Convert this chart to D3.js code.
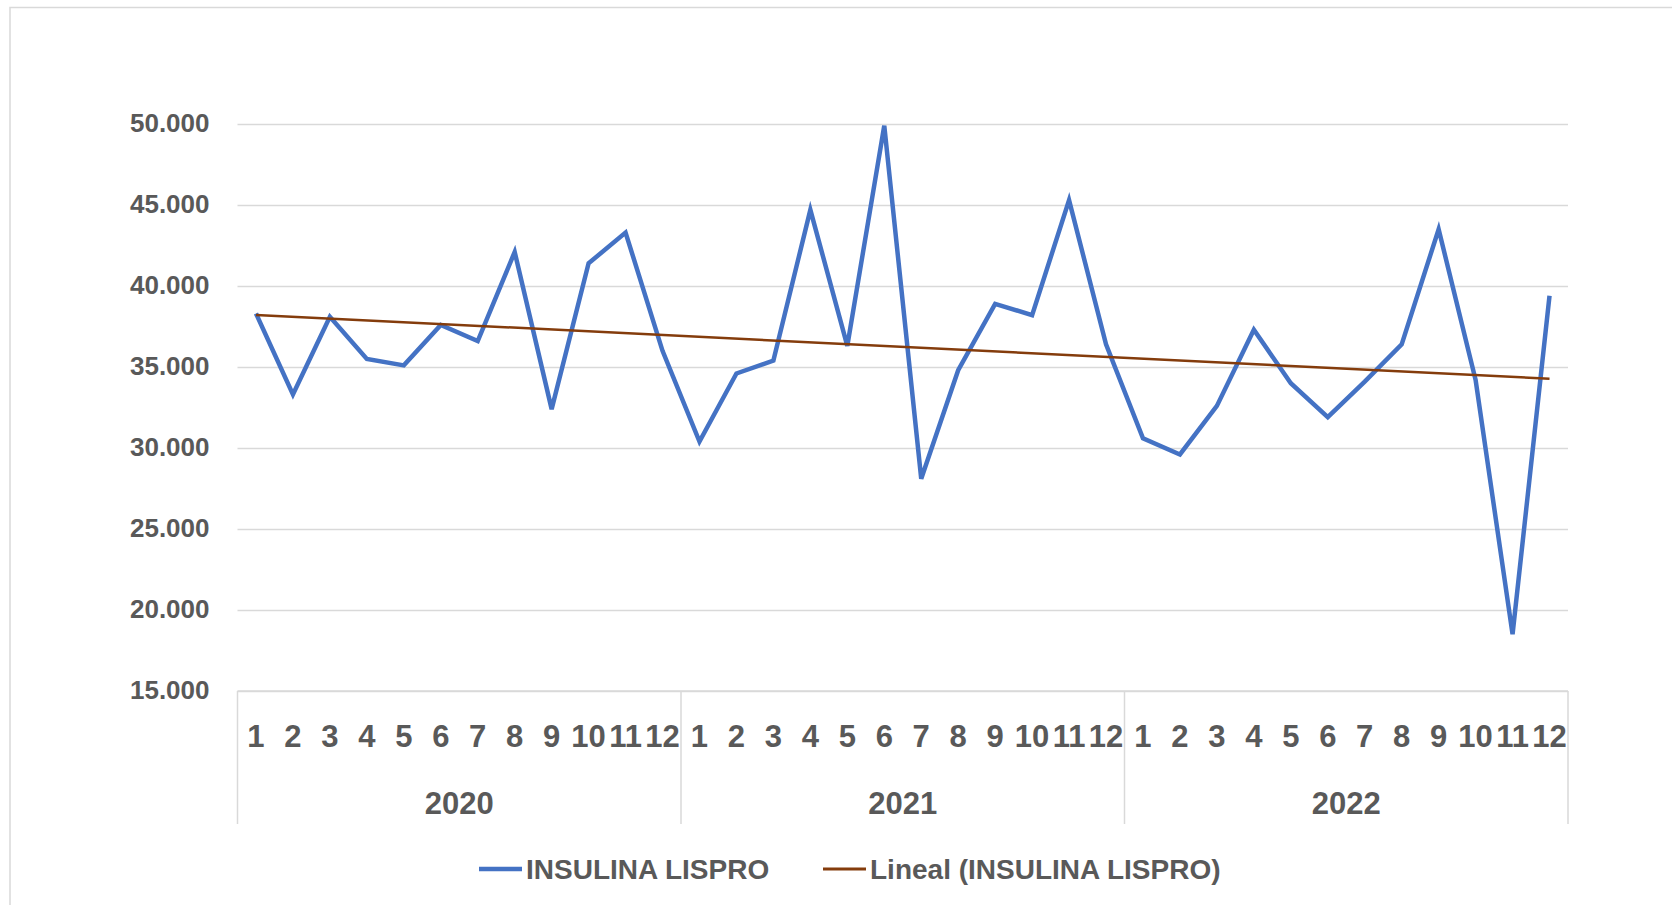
<!DOCTYPE html>
<meta charset="utf-8" />
<html>
<head>
    <style>
        body { margin: 0; background: #fff; }
        text { font-family: "Liberation Sans", Arial, sans-serif; font-weight: bold; fill: #595959; }
        .grid line { stroke: #d9d9d9; stroke-width: 1.5px; }
    </style>
</head>
<body>
    <svg width="1672" height="905"></svg>
    <script src="https://d3js.org/d3.v7.min.js"></script>
    <script>
        // chart data
        var years = ["2020", "2021", "2022"];
        var months = ["1", "2", "3", "4", "5", "6", "7", "8", "9", "10", "11", "12"];
        var values2020 = [38300, 33300, 38100, 35500, 35100, 37600, 36600, 42100, 32400, 41400, 43300, 36000];
        var values2021 = [30400, 34600, 35400, 44700, 36300, 49900, 28100, 34800, 38900, 38200, 45300, 36400];
        var values2022 = [30600, 29600, 32600, 37300, 34000, 31900, 34100, 36400, 43500, 34200, 18500, 39400];
        var yTicks = [15000, 20000, 25000, 30000, 35000, 40000, 45000, 50000];
        var seriesName = "INSULINA LISPRO";
        var trendName = "Lineal (INSULINA LISPRO)";

        var svg = d3.select("svg");

        var plotLeft = 237.5, plotRight = 1568, plotTop = 124, plotBottom = 691;

        // flatten year/month into one series
        var allValues = values2020.concat(values2021, values2022);
        var points = allValues.map(function (v, i) {
            return { i: i, year: years[Math.floor(i / 12)], month: months[i % 12], value: v };
        });

        var x = d3.scaleBand()
            .domain(points.map(function (d) { return d.i; }))
            .range([plotLeft, plotRight]);

        var xYear = d3.scaleBand()
            .domain(years)
            .range([plotLeft, plotRight]);

        var y = d3.scaleLinear()
            .domain([15000, 50000])
            .range([plotBottom, plotTop]);

        var locale = d3.formatLocale({ decimal: ",", thousands: ".", grouping: [3], currency: ["", ""] });
        var fmt = locale.format(",.0f");

        // outer frame of the chart area
        svg.append("rect")
            .attr("x", 10).attr("y", 7.5)
            .attr("width", 1700).attr("height", 1000)
            .attr("fill", "none")
            .attr("stroke", "#d9d9d9")
            .attr("stroke-width", 1.5);

        // y axis with gridlines
        var yAxis = svg.append("g")
            .attr("class", "grid")
            .attr("transform", "translate(" + plotLeft + ",0)")
            .call(d3.axisLeft(y)
                .tickValues(yTicks)
                .tickFormat(fmt)
                .tickSizeInner(-(plotRight - plotLeft))
                .tickSizeOuter(0)
                .tickPadding(28));
        yAxis.select(".domain").remove();
        yAxis.selectAll("text")
            .style("font-size", "26px")
            .attr("dy", "0.3em");

        // month labels
        var xAxis = svg.append("g")
            .attr("transform", "translate(0," + plotBottom + ")")
            .call(d3.axisBottom(x)
                .tickFormat(function (i) { return points[i].month; })
                .tickSize(0)
                .tickPadding(34));
        xAxis.select(".domain").remove();
        xAxis.selectAll("text").style("font-size", "31px");

        // category axis frame: top line and year separators
        svg.append("line")
            .attr("x1", plotLeft).attr("x2", plotRight)
            .attr("y1", plotBottom).attr("y2", plotBottom)
            .attr("stroke", "#d9d9d9").attr("stroke-width", 1.5);

        var seps = years.map(function (yr) { return xYear(yr); }).concat([plotRight]);
        svg.append("g")
            .selectAll("line")
            .data(seps)
            .enter()
            .append("line")
            .attr("x1", function (d) { return d; })
            .attr("x2", function (d) { return d; })
            .attr("y1", plotBottom)
            .attr("y2", 824)
            .attr("stroke", "#d9d9d9")
            .attr("stroke-width", 1.5);

        svg.append("g")
            .selectAll("text")
            .data(years)
            .enter()
            .append("text")
            .attr("x", function (d) { return xYear(d) + xYear.bandwidth() / 2; })
            .attr("y", 814)
            .attr("text-anchor", "middle")
            .style("font-size", "31px")
            .text(function (d) { return d; });

        // data line
        var line = d3.line()
            .x(function (d) { return x(d.i) + x.bandwidth() / 2; })
            .y(function (d) { return y(d.value); });

        // linear trend (least squares)
        var n = points.length;
        var mx = d3.mean(points, function (d) { return d.i; });
        var my = d3.mean(points, function (d) { return d.value; });
        var sxy = d3.sum(points, function (d) { return (d.i - mx) * (d.value - my); });
        var sxx = d3.sum(points, function (d) { return (d.i - mx) * (d.i - mx); });
        var slope = sxy / sxx;
        var intercept = my - slope * mx;
        var trend = [points[0], points[n - 1]].map(function (d) {
            return { i: d.i, value: intercept + slope * d.i };
        });

        svg.append("path")
            .datum(points)
            .attr("fill", "none")
            .attr("stroke", "#4472c4")
            .attr("stroke-width", 4.5)
            .attr("stroke-linejoin", "miter")
            .attr("d", line);

        svg.append("path")
            .datum(trend)
            .attr("fill", "none")
            .attr("stroke", "#843c0c")
            .attr("stroke-width", 2.5)
            .attr("d", line);

        // legend
        var legend = [
            { name: seriesName, color: "#4472c4", width: 4.5, x: 479 },
            { name: trendName, color: "#843c0c", width: 3, x: 823 }
        ];
        var lg = svg.append("g")
            .selectAll("g")
            .data(legend)
            .enter()
            .append("g")
            .attr("transform", function (d) { return "translate(" + d.x + ",869)"; });
        lg.append("line")
            .attr("x1", 0).attr("x2", 43)
            .attr("y1", 0).attr("y2", 0)
            .attr("stroke", function (d) { return d.color; })
            .attr("stroke-width", function (d) { return d.width; });
        lg.append("text")
            .attr("x", 47)
            .attr("y", 10)
            .style("font-size", "28px")
            .text(function (d) { return d.name; });
    </script>
</body>
</html>
